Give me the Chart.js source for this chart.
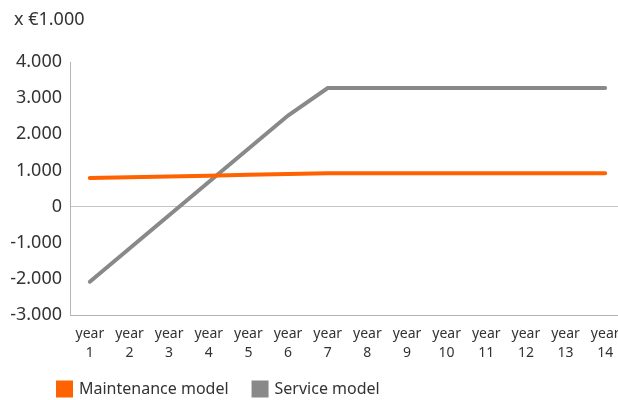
<!DOCTYPE html>
<html>
<head>
<meta charset="utf-8">
<script src="https://cdn.jsdelivr.net/npm/chart.js@4/dist/chart.umd.min.js"></script>
<style>
  html, body { margin: 0; padding: 0; background: #fff; overflow: hidden; }
  #wrap { width: 640px; height: 400px; }
</style>
</head>
<body>
<div id="wrap"><canvas id="myChart" width="640" height="400"></canvas></div>
<script>
// values (x €1.000)
const years = ['1', '2', '3', '4', '5', '6', '7', '8', '9', '10', '11', '12', '13', '14']
const maintenanceModel = [790, 810, 835, 855, 880, 900, 925, 925, 925, 925, 925, 925, 925, 925]
const serviceModel = [-2080, -1160, -240, 680, 1600, 2520, 3280, 3280, 3280, 3280, 3280, 3280, 3280, 3280]
const yTicks = [-3000, -2000, -1000, 0, 1000, 2000, 3000, 4000]

const textColor = '#333333'
const fontFamily = '"Noto Sans", sans-serif'

// nudge the title and legend, the way the original is laid out
const nudgePlugin = {
    id: 'nudge',
    afterLayout(chart) {
        chart.titleBlock.left = 14
        chart.legend.left = 33
        chart.legend.top = 356
    }
}

new Chart('myChart', {
    type: 'line',
    data: {
        labels: years.map((y) => ['year', y]),
        datasets: [
            {
                label: 'Maintenance model',
                data: maintenanceModel,
                borderColor: '#ff6200',
                backgroundColor: '#ff6200',
                borderWidth: 4,
                borderCapStyle: 'round',
                pointRadius: 0,
                tension: 0
            },
            {
                label: 'Service model',
                data: serviceModel,
                borderColor: '#898989',
                backgroundColor: '#898989',
                borderWidth: 4,
                borderCapStyle: 'round',
                pointRadius: 0,
                tension: 0
            }
        ]
    },
    plugins: [nudgePlugin],
    options: {
        responsive: false,
        animation: false,
        layout: { padding: { left: 0, right: 15, top: 0, bottom: 0 } },
        plugins: {
            title: {
                display: true,
                text: 'x €1.000',
                align: 'start',
                color: textColor,
                font: { family: fontFamily, size: 18, weight: 'normal', lineHeight: 1.2 },
                padding: { top: 9, bottom: 31.4 }
            },
            legend: {
                position: 'bottom',
                align: 'start',
                maxHeight: 34,
                labels: {
                    boxWidth: 13,
                    boxHeight: 13,
                    padding: 25,
                    color: textColor,
                    font: { family: fontFamily, size: 16 }
                }
            },
            tooltip: { enabled: false }
        },
        scales: {
            x: {
                offset: true,
                afterFit: (scale) => { scale.height = 51 },
                grid: { color: 'transparent', drawTicks: false, offset: true },
                border: { display: true, color: '#b4b4b4', width: 1 },
                ticks: {
                    color: textColor,
                    autoSkip: false,
                    maxRotation: 0,
                    padding: 10,
                    font: { family: fontFamily, size: 14, lineHeight: 1.35 }
                }
            },
            y: {
                min: -3000,
                max: 4000,
                afterFit: (scale) => { scale.width = 70 },
                afterBuildTicks: (scale) => { scale.ticks = yTicks.map((v) => ({ value: v })) },
                grid: {
                    drawTicks: false,
                    color: (ctx) => ctx.tick && ctx.tick.value === 0 ? '#c4c4c4' : 'transparent'
                },
                border: { display: true, color: '#b4b4b4', width: 1 },
                ticks: {
                    color: textColor,
                    padding: 8,
                    font: { family: fontFamily, size: 18 },
                    callback: (v) => v.toLocaleString('de-DE')
                }
            }
        }
    }
})
</script>
</body>
</html>
